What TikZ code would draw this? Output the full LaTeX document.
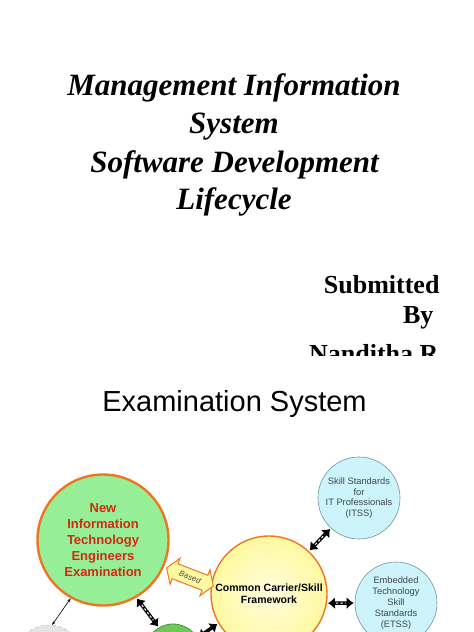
\documentclass[tikz,border=0pt]{standalone}
\usepackage{fontspec}
\setmainfont{Liberation Serif}
\setsansfont{Liberation Sans}
\usetikzlibrary{arrows.meta}

\definecolor{examgreen}{RGB}{150,238,150}
\definecolor{rimorange}{RGB}{238,118,34}
\definecolor{examred}{RGB}{214,40,16}
\definecolor{paleyellow}{RGB}{255,249,160}
\definecolor{palecyan}{RGB}{204,244,250}
\definecolor{cyanrim}{RGB}{110,150,165}
\definecolor{cyantext}{RGB}{60,70,80}
\definecolor{leafgreen}{RGB}{110,200,90}
\definecolor{leafrim}{RGB}{70,150,60}

\begin{document}
\begin{tikzpicture}[x=1pt, y=-1pt,
    titletext/.style={font=\fontsize{31}{38}\selectfont\bfseries\itshape, anchor=base},
    bytext/.style={font=\fontsize{26}{30}\selectfont\bfseries, anchor=base east},
    standard/.style={circle, draw=cyanrim, line width=0.6pt, fill=palecyan, text=cyantext,
        align=center, inner sep=0pt, minimum size=82pt, font=\sffamily\fontsize{9.3}{10.8}\selectfont},
    fatlink/.style={{Latex[length=7pt,width=12pt]}-{Latex[length=7pt,width=12pt]}, line width=3.5pt,
        shorten <=1pt, shorten >=1pt},
    stripe/.style={white, line width=1pt, dash pattern=on 2.5pt off 2pt, shorten <=9pt, shorten >=9pt}
]
    \path[use as bounding box] (0,0) rectangle (474,632);
    \clip (0,0) rectangle (474,632);

    % First slide
    \begin{scope}
        \clip (0,0) rectangle (474,355);
        \node (title1) [titletext] at (234,95) {Management Information};
        \node (title2) [titletext] at (234,133) {System};
        \node (title3) [titletext] at (234.5,172) {Software Development};
        \node (title4) [titletext] at (234,209) {Lifecycle};
        \node (submitted) [bytext] at (443,293) {Submitted};
        \node (by) [bytext] at (437,323) {By};
        \node (author) [bytext] at (442,362) {Nanditha R};
    \end{scope}

    % Second slide
    \node (slidetitle) [font=\sffamily\fontsize{29}{34}\selectfont, anchor=base] at (234.5,411) {Examination System};

    % Circles
    \node (ite) [circle, draw=rimorange, line width=2.4pt, fill=examgreen, minimum size=131pt,
        align=center, inner sep=0pt, text=examred, font=\sffamily\bfseries\fontsize{13}{16}\selectfont]
        at (103,540) {New\\Information\\Technology\\Engineers\\Examination};
    \node (common) [circle, draw=rimorange, line width=1.4pt, inner color=paleyellow!35, outer color=paleyellow,
        minimum size=116pt, align=center, inner sep=0pt, font=\sffamily\bfseries\fontsize{10.5}{12}\selectfont]
        at (269,594) {Common Carrier/Skill\\Framework};
    \node (itss) [standard] at (359,498) {Skill Standards\\for\\IT Professionals\\(ITSS)};
    \node (etss) [standard] at (396,603) {Embedded\\Technology\\Skill\\Standards\\(ETSS)};
    \node (leftstub) [circle, draw=gray!60, dashed, fill=gray!20, minimum size=70pt] at (49,660) {};
    \node (midstub) [circle, draw=leafrim, line width=0.8pt, fill=leafgreen, minimum size=56pt] at (173,652) {};

    % Based arrow
    \begin{scope}[shift={(190,577)}, rotate=-21]
        \draw[rimorange, line width=1pt, fill=paleyellow, line join=miter]
            (-25,0) -- (-16,-14) -- (-16,-8) -- (16,-8) -- (16,-14) -- (25,0)
            -- (16,14) -- (16,8) -- (-16,8) -- (-16,14) -- cycle;
        \node (based) [rotate=-21, inner sep=0pt, text=black!70,
            font=\sffamily\itshape\fontsize{8}{9}\selectfont] at (0,0) {Based};
    \end{scope}

    % Links
    \draw[fatlink] (common.47) -- (itss.-133);
    \draw[stripe] (common.47) -- (itss.-133);
    \draw[fatlink] (common.-9) -- (etss.west);
    \draw[stripe] (common.-9) -- (etss.west);
    \draw[fatlink] (ite.-60) -- (midstub.120);
    \draw[stripe] (ite.-60) -- (midstub.120);
    \draw[fatlink] (midstub.30) -- (common.-150);
    \draw[{Stealth[length=4pt]}-{Stealth[length=4pt]}, line width=0.6pt] (ite.-119) -- (leftstub.85);
\end{tikzpicture}
\end{document}
